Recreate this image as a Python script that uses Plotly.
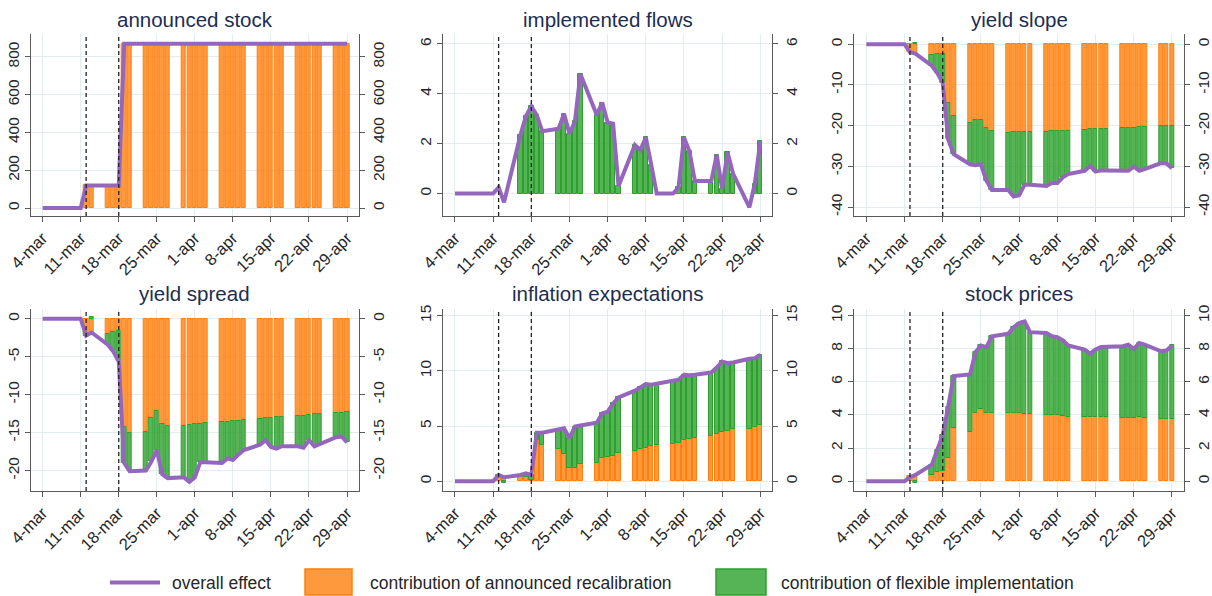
import plotly.graph_objects as go

N = None

# Business days covered by the estimates
trading_days = [
    "2020-03-04", "2020-03-05", "2020-03-06",
    "2020-03-09", "2020-03-10", "2020-03-11", "2020-03-12", "2020-03-13",
    "2020-03-16", "2020-03-17", "2020-03-18", "2020-03-19", "2020-03-20",
    "2020-03-23", "2020-03-24", "2020-03-25", "2020-03-26", "2020-03-27",
    "2020-03-30", "2020-03-31", "2020-04-01", "2020-04-02", "2020-04-03",
    "2020-04-06", "2020-04-07", "2020-04-08", "2020-04-09", "2020-04-10",
    "2020-04-13", "2020-04-14", "2020-04-15", "2020-04-16", "2020-04-17",
    "2020-04-20", "2020-04-21", "2020-04-22", "2020-04-23", "2020-04-24",
    "2020-04-27", "2020-04-28", "2020-04-29",
]

week_ticks = ["2020-03-04", "2020-03-11", "2020-03-18", "2020-03-25", "2020-04-01",
              "2020-04-08", "2020-04-15", "2020-04-22", "2020-04-29"]
week_labels = ["4-mar", "11-mar", "18-mar", "25-mar", "1-apr",
               "8-apr", "15-apr", "22-apr", "29-apr"]

# Announcement dates marked with dashed lines
event_days = ["2020-03-12", "2020-03-18"]

# --- announced stock -------------------------------------------------------
stock_total = [0, 0, 0, 0, 0, 0, 120, 120,
               120, 120, 120, 870, 870,
               870, 870, 870, 870, 870,
               870, 870, 870, 870, 870,
               870, 870, 870, 870, 870,
               870, 870, 870, 870, 870,
               870, 870, 870, 870, 870,
               870, 870, 870]
stock_announced = [N, N, N, N, N, N, 120, 120,
                   120, 120, 120, 870, 870,
                   870, 870, 870, 870, 870,
                   870, 870, 870, 870, 870,
                   870, 870, 870, 870, 870,
                   870, 870, 870, 870, 870,
                   870, 870, 870, 870, 870,
                   870, 870, 870]
stock_flexible = [N] * 41
stock_ticks = [0, 200, 400, 600, 800]

# --- implemented flows -----------------------------------------------------
flows_total = [0, 0, 0, 0, 0, 0, 0.25, -0.35,
               2.35, 3.1, 3.5, 3.15, 2.5,
               2.6, 3.2, 2.4, 2.9, 4.8,
               3.15, 3.65, 2.85, 2.8, 0.3,
               1.95, 1.75, 2.25, 1.15, 0.0,
               0.0, 0.25, 2.25, 1.7, 0.5,
               0.5, 1.55, 0.2, 1.65, 0.8,
               -0.55, 0.4, 2.1]
flows_announced = [N] * 41
flows_flexible = [N, N, N, N, N, N, N, N,
                  2.35, 3.1, 3.5, 3.15, 2.5,
                  2.6, 3.2, 2.4, 2.9, 4.8,
                  3.15, 3.65, 2.85, 2.8, 0.3,
                  1.95, 1.75, 2.25, 1.15, N,
                  N, 0.25, 2.25, 1.7, 0.5,
                  0.5, 1.55, 0.2, 1.65, 0.8,
                  N, 0.4, 2.1]
flows_ticks = [0, 2, 4, 6]

# --- yield slope -----------------------------------------------------------
slope_total = [0, 0, 0, 0, 0, 0, -2.0, -2.3,
               -5.3, -7.1, -9.5, -23.4, -27.0,
               -29.5, -29.7, -29.5, -33.5, -35.8,
               -35.8, -37.4, -37.1, -34.5, -34.5,
               -34.8, -34.1, -34.1, -32.7, -31.9,
               -31.1, -29.9, -31.3, -31.0, -31.0,
               -31.0, -31.1, -30.1, -31.1, -30.7,
               -29.2, -29.3, -30.5]
slope_announced = [N, N, N, N, N, N, -1.9, -2.4,
                   -2.6, -2.4, -2.4, -14.4, -17.7,
                   -19.3, -18.7, -18.5, -20.5, -21.2,
                   -21.7, -21.6, -21.5, -21.5, -21.5,
                   -21.5, -21.4, -21.4, -21.3, -21.2,
                   -21.0, -20.9, -20.9, -20.9, -20.9,
                   -20.7, -20.6, -20.5, -20.4, -20.4,
                   -20.1, -20.1, -20.1]
slope_flexible = [N, N, N, N, N, N, N, 0.4,
                  -2.7, -4.7, -7.1, -9.0, -9.3,
                  -10.2, -11.0, -11.0, -13.0, -14.6,
                  -14.1, -15.8, -15.6, -13.0, -13.0,
                  -13.3, -12.7, -12.7, -11.4, -10.7,
                  -10.1, -9.0, -10.4, -10.1, -10.1,
                  -10.3, -10.5, -9.6, -10.7, -10.3,
                  -9.1, -9.2, -10.4]
slope_ticks = [0, -10, -20, -30, -40]

# --- yield spread ----------------------------------------------------------
spread_total = [0, 0, 0, 0, 0, 0, -2.2, -1.8,
                -3.4, -4.3, -5.6, -19.0, -20.1,
                -20.0, -18.8, -17.3, -20.5, -21.0,
                -20.9, -21.5, -20.9, -18.9, -18.9,
                -19.0, -18.4, -18.6, -17.9, -17.3,
                -16.6, -16.0, -16.9, -17.1, -16.8,
                -16.8, -17.0, -16.0, -16.8, -16.5,
                -15.6, -15.5, -16.3]
spread_announced = [N, N, N, N, N, N, -1.8, -1.8,
                    -2.0, -1.75, -1.55, -14.2, -15.0,
                    -14.9, -13.1, -12.1, -13.85, -14.1,
                    -14.1, -14.0, -13.85, -13.8, -13.7,
                    -13.6, -13.55, -13.5, -13.45, -13.3,
                    -13.2, -13.1, -13.05, -13.0, -12.9,
                    -12.85, -12.75, -12.7, -12.6, -12.55,
                    -12.45, -12.4, -12.3]
spread_flexible = [N, N, N, N, N, N, -0.4, 0.2,
                   -1.4, -2.55, -4.05, -4.8, -5.1,
                   -5.1, -5.7, -5.2, -6.65, -6.9,
                   -6.8, -7.5, -7.05, -5.1, -5.2,
                   -5.4, -4.85, -5.1, -4.45, -4.0,
                   -3.4, -2.9, -3.85, -4.1, -3.9,
                   -3.95, -4.25, -3.3, -4.2, -3.95,
                   -3.15, -3.1, -4.0]
spread_ticks = [0, -5, -10, -15, -20]

# --- inflation expectations ------------------------------------------------
infl_total = [0, 0, 0, 0, 0, 0, 0.57, 0.36,
              0.57, 0.72, 0.57, 4.4, 4.4,
              4.65, 4.8, 3.9, 4.95, 5.05,
              5.3, 6.15, 6.3, 7.05, 7.6,
              8.2, 8.55, 8.8, 8.75, 8.85,
              9.1, 9.2, 9.65, 9.6, 9.65,
              9.85, 10.3, 10.85, 10.7, 10.75,
              11.1, 11.15, 11.45]
infl_announced = [N, N, N, N, N, N, 0.4, 0.35,
                  0.45, 0.4, 0.1, 3.7, 3.25,
                  2.9, 2.5, 1.2, 1.2, 1.6,
                  1.7, 2.15, 2.2, 2.3, 2.6,
                  2.75, 2.9, 3.0, 3.15, 3.25,
                  3.35, 3.5, 3.7, 3.8, 3.9,
                  4.1, 4.3, 4.45, 4.55, 4.7,
                  4.75, 4.9, 5.1]
infl_flexible = [N, N, N, N, N, N, 0.17, -0.2,
                 0.12, 0.32, 0.47, 0.7, 1.15,
                 1.75, 2.3, 2.7, 3.75, 3.45,
                 3.6, 4.0, 4.1, 4.75, 5.0,
                 5.45, 5.65, 5.8, 5.6, 5.6,
                 5.75, 5.7, 5.95, 5.8, 5.75,
                 5.75, 6.0, 6.4, 6.15, 6.05,
                 6.35, 6.25, 6.35]
infl_ticks = [0, 5, 10, 15]

# --- stock prices ----------------------------------------------------------
equity_total = [0, 0, 0, 0, 0, 0, 0.24, 0.38,
                1.0, 1.9, 2.8, 4.5, 6.35,
                6.45, 7.8, 8.2, 8.1, 8.75,
                8.9, 9.3, 9.55, 9.65, 9.0,
                8.95, 8.75, 8.7, 8.5, 8.2,
                7.95, 7.7, 7.95, 8.1, 8.1,
                8.15, 8.25, 8.0, 8.35, 8.25,
                7.85, 7.9, 8.2]
equity_announced = [N, N, N, N, N, N, 0.3, 0.3,
                    0.4, 0.55, 0.6, 1.4, 3.2,
                    3.0, 4.1, 4.37, 4.13, 4.1,
                    4.1, 4.1, 4.1, 4.08, 4.05,
                    4.0, 3.99, 3.97, 3.93, 3.89,
                    3.9, 3.88, 3.88, 3.88, 3.87,
                    3.8, 3.8, 3.82, 3.85, 3.82,
                    3.77, 3.77, 3.78]
equity_flexible = [N, N, N, N, N, N, N, -0.1,
                   0.6, 1.35, 2.2, 3.1, 3.15,
                   3.45, 3.7, 3.83, 3.97, 4.65,
                   4.8, 5.2, 5.45, 5.57, 4.95,
                   4.95, 4.76, 4.73, 4.57, 4.31,
                   4.05, 3.82, 4.07, 4.22, 4.23,
                   4.35, 4.45, 4.18, 4.5, 4.43,
                   4.08, 4.13, 4.42]
equity_ticks = [0, 2, 4, 6, 8, 10]

panels = [
    dict(title="announced stock", total=stock_total, announced=stock_announced,
         flexible=stock_flexible, ticks=stock_ticks, yrange=[-42, 921]),
    dict(title="implemented flows", total=flows_total, announced=flows_announced,
         flexible=flows_flexible, ticks=flows_ticks, yrange=[-0.9, 6.4]),
    dict(title="yield slope", total=slope_total, announced=slope_announced,
         flexible=slope_flexible, ticks=slope_ticks, yrange=[-42.2, 2.5]),
    dict(title="yield spread", total=spread_total, announced=spread_announced,
         flexible=spread_flexible, ticks=spread_ticks, yrange=[-22.7, 1.3]),
    dict(title="inflation expectations", total=infl_total, announced=infl_announced,
         flexible=infl_flexible, ticks=infl_ticks, yrange=[-0.88, 15.6]),
    dict(title="stock prices", total=equity_total, announced=equity_announced,
         flexible=equity_flexible, ticks=equity_ticks, yrange=[-0.59, 10.4]),
]

# --- styling ---------------------------------------------------------------
W, H = 1212, 596
FONT = "Liberation Sans, Arial, Helvetica, sans-serif"
ORANGE = "#ff7f0e"
ORANGE_FILL = "rgba(255,127,14,0.8)"
GREEN = "#2ca02c"
GREEN_FILL = "rgba(44,160,44,0.8)"
PURPLE = "#9467bd"
TITLE_COLOR = "#1c2d52"
TEXT_COLOR = "#262626"
AXIS_COLOR = "#5a5a5a"
GRID_COLOR = "#e3edf0"
DAY_MS = 86400000
BAR_WIDTH = 0.8 * DAY_MS

# panel frames in pixels: (left, right) per column, (top, bottom) per row
col_px = [(30.7, 359.0), (443.0, 772.3), (854.3, 1184.0)]
row_px = [(34.0, 216.0), (309.0, 491.0)]
title_y_px = [20.0, 293.0]
x_range = ["2020-03-01 19:12", "2020-05-01 04:48"]

fig = go.Figure()
layout = dict(
    width=W, height=H,
    margin=dict(l=0, r=0, t=0, b=0, autoexpand=False),
    paper_bgcolor="white", plot_bgcolor="white",
    barmode="relative", bargap=0, showlegend=False,
    font=dict(family=FONT, color=TEXT_COLOR),
)
shapes, annotations = [], []

for i, p in enumerate(panels):
    k = i + 1
    r, c = divmod(i, 3)
    xs = "" if k == 1 else str(k)
    xref, yref, yref_r = f"x{xs}", f"y{xs}", f"y{k + 6}"
    x0, x1 = col_px[c]
    top, bot = row_px[r]
    xdom = [x0 / W, x1 / W]
    ydom = [1 - bot / H, 1 - top / H]

    fig.add_trace(go.Bar(x=trading_days, y=p["announced"], width=BAR_WIDTH,
                         marker=dict(color=ORANGE_FILL, line=dict(color=ORANGE, width=1)),
                         xaxis=xref, yaxis=yref, hoverinfo="skip"))
    fig.add_trace(go.Bar(x=trading_days, y=p["flexible"], width=BAR_WIDTH,
                         marker=dict(color=GREEN_FILL, line=dict(color=GREEN, width=1)),
                         xaxis=xref, yaxis=yref, hoverinfo="skip"))
    fig.add_trace(go.Scatter(x=trading_days, y=p["total"], mode="lines",
                             line=dict(color=PURPLE, width=4),
                             xaxis=xref, yaxis=yref, hoverinfo="skip"))
    # same series bound to the mirrored right-hand axis (invisible)
    fig.add_trace(go.Scatter(x=trading_days, y=p["total"], mode="lines",
                             line=dict(color="rgba(0,0,0,0)", width=0),
                             xaxis=xref, yaxis=yref_r, hoverinfo="skip"))

    tick_text = [str(v) for v in p["ticks"]]
    common_y = dict(range=p["yrange"], tickmode="array", tickvals=p["ticks"],
                    ticktext=tick_text, tickangle=-90, ticks="outside", ticklen=5,
                    tickcolor=AXIS_COLOR, showline=True, linecolor=AXIS_COLOR,
                    linewidth=1, zeroline=False, fixedrange=True, automargin=False,
                    tickfont=dict(size=15.5, family=FONT, color=TEXT_COLOR))

    layout[f"xaxis{xs}"] = dict(
        domain=xdom, anchor=yref, type="date", range=x_range, automargin=False,
        tickmode="array", tickvals=week_ticks, ticktext=week_labels, tickangle=-45,
        ticks="outside", ticklen=5, tickcolor=AXIS_COLOR, showline=True,
        linecolor=AXIS_COLOR, linewidth=1, showgrid=True, gridcolor=GRID_COLOR,
        gridwidth=1, zeroline=False, fixedrange=True,
        tickfont=dict(size=16.5, family=FONT, color=TEXT_COLOR))
    layout[f"yaxis{xs}"] = dict(domain=ydom, anchor=xref, side="left",
                                showgrid=True, gridcolor=GRID_COLOR, gridwidth=1,
                                **common_y)
    layout[f"yaxis{k + 6}"] = dict(anchor=xref, overlaying=yref, side="right",
                                   showgrid=False, **common_y)

    for d in event_days:
        shapes.append(dict(type="line", xref=xref, yref=f"{yref} domain",
                           x0=d, x1=d, y0=0, y1=1, layer="above",
                           line=dict(color="#222222", width=1.3, dash="4px,3px")))

    annotations.append(dict(text=p["title"], xref="paper", yref="paper",
                            x=(xdom[0] + xdom[1]) / 2, y=1 - title_y_px[r] / H,
                            xanchor="center", yanchor="middle", showarrow=False,
                            font=dict(size=20.5, family=FONT, color=TITLE_COLOR)))

# --- legend drawn along the bottom ----------------------------------------
leg_y = 582.5
shapes.append(dict(type="line", xref="paper", yref="paper",
                   x0=110 / W, x1=160 / W, y0=1 - leg_y / H, y1=1 - leg_y / H,
                   line=dict(color=PURPLE, width=4)))
shapes.append(dict(type="rect", xref="paper", yref="paper",
                   x0=305 / W, x1=352 / W, y0=1 - 595 / H, y1=1 - 569 / H,
                   fillcolor=ORANGE_FILL, line=dict(color=ORANGE, width=1.5)))
shapes.append(dict(type="rect", xref="paper", yref="paper",
                   x0=716 / W, x1=766 / W, y0=1 - 595 / H, y1=1 - 569 / H,
                   fillcolor=GREEN_FILL, line=dict(color=GREEN, width=1.5)))
legend_labels = [("overall effect", 170), ("contribution of announced recalibration", 368),
                 ("contribution of flexible implementation", 779)]
for text, xpx in legend_labels:
    annotations.append(dict(text=text, xref="paper", yref="paper", x=xpx / W,
                            y=1 - leg_y / H, xanchor="left", yanchor="middle",
                            showarrow=False,
                            font=dict(size=17.5, family=FONT, color=TEXT_COLOR)))

layout["shapes"] = shapes
layout["annotations"] = annotations
fig.update_layout(**layout)
fig.write_html("out.html")
